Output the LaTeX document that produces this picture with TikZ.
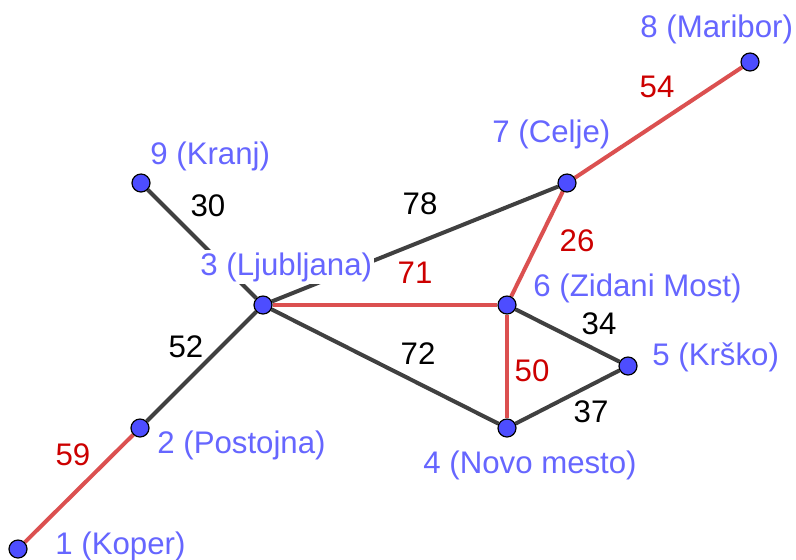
\documentclass[tikz,border=0pt]{standalone}
\usepackage{fontspec}
\setmainfont{Liberation Sans}
\usetikzlibrary{positioning,backgrounds}
\definecolor{vblue}{HTML}{4D4DFF}
\definecolor{lblue}{HTML}{6666FF}
\definecolor{egray}{HTML}{404040}
\definecolor{ered}{HTML}{DB5050}
\definecolor{wred}{HTML}{CC0000}
\tikzset{
  vtx/.style={circle,draw=black,fill=vblue,line width=0.6pt,
              minimum size=9pt,inner sep=0pt},
  city/.style={text=lblue,anchor=west,inner sep=1pt,fill=white},
  road/.style={egray,line width=2pt},
  tree/.style={ered,line width=2pt},
  wt/.style={inner sep=0pt},
  wtred/.style={wt,text=wred},
}

\begin{document}
\begin{tikzpicture}[x=0.5pt,y=-0.5pt,font=\fontsize{15.6}{18}\selectfont]
  \useasboundingbox (0,0) rectangle (796,559);
  % vertices
  \node[vtx] (v1) at (18,549) {};
  \node[vtx] (v2) at (140,428) {};
  \node[vtx] (v3) at (263,305) {};
  \node[vtx] (v4) at (507,428) {};
  \node[vtx] (v5) at (628,366) {};
  \node[vtx] (v6) at (507,305) {};
  \node[vtx] (v7) at (567,183) {};
  \node[vtx] (v8) at (750,62) {};
  \node[vtx] (v9) at (141,183) {};
  % roads
  \begin{pgfonlayer}{background}
    \draw[road] (v9) -- (v3);
    \draw[road] (v3) -- (v2);
    \draw[road] (v3) -- (v7);
    \draw[road] (v3) -- (v4);
    \draw[road] (v6) -- (v5);
    \draw[road] (v4) -- (v5);
    \draw[tree] (v1) -- (v2);
    \draw[tree] (v3) -- (v6);
    \draw[tree] (v6) -- (v7);
    \draw[tree] (v6) -- (v4);
    \draw[tree] (v7) -- (v8);
  \end{pgfonlayer}
  % city names
  \node[city] (n1) at (53,546) {1 (Koper)};
  \node[city] (n2) at (155,445) {2 (Postojna)};
  \node[city] (n3) at (198,267) {3 (Ljubljana)};
  \node[city] (n4) at (421,465) {4 (Novo mesto)};
  \node[city] (n5) at (650,357) {5 (Krško)};
  \node[city] (n6) at (531,288) {6 (Zidani Most)};
  \node[city] (n7) at (490,134) {7 (Celje)};
  \node[city] (n8) at (638,29) {8 (Maribor)};
  \node[city] (n9) at (148,156) {9 (Kranj)};
  % distances
  \node[wtred] (d12) at (73,455) {59};
  \node[wt] (d23) at (186,347) {52};
  \node[wt] (d39) at (208,206) {30};
  \node[wt] (d37) at (420,204) {78};
  \node[wtred] (d36) at (415,273) {71};
  \node[wt] (d34) at (418,354) {72};
  \node[wtred] (d67) at (577,241) {26};
  \node[wt] (d56) at (599,324) {34};
  \node[wtred] (d46) at (532,371) {50};
  \node[wt] (d45) at (591,412) {37};
  \node[wtred] (d78) at (657,87) {54};
\end{tikzpicture}
\end{document}
